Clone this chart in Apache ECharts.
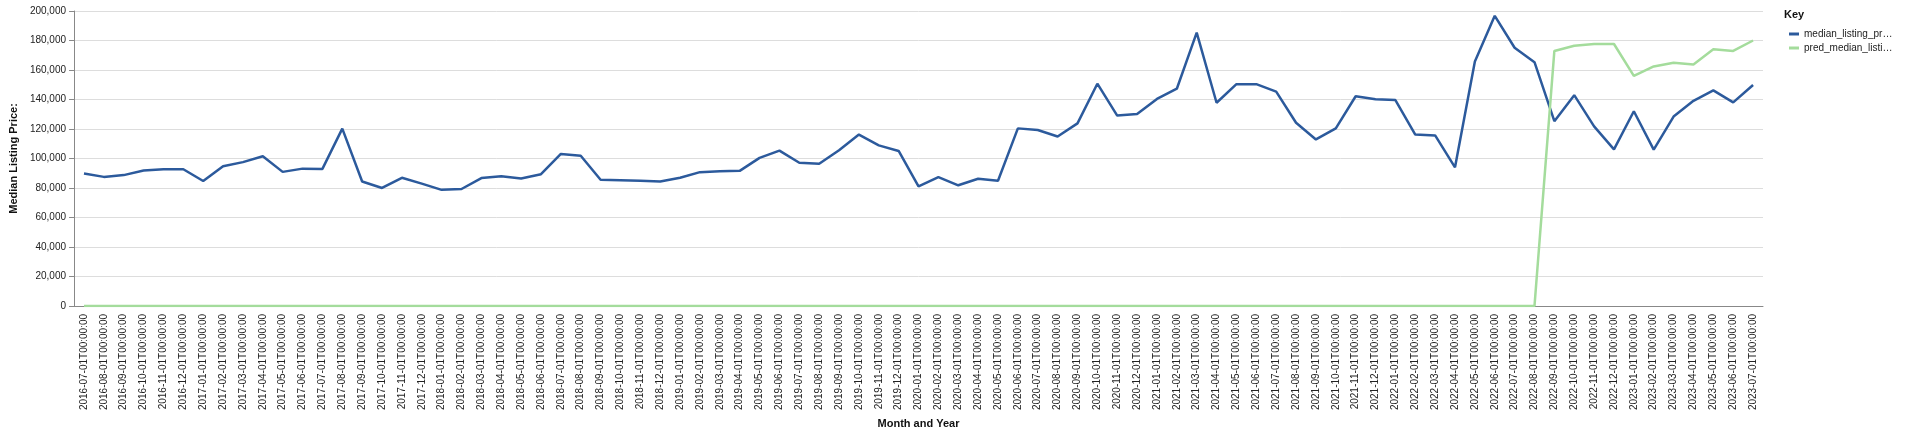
<!DOCTYPE html>
<html>
<head>
<meta charset="utf-8">
<script src="https://cdn.jsdelivr.net/npm/echarts@6/dist/echarts.min.js"></script>
<style>html,body{margin:0;padding:0;background:#fff}#c{width:1920px;height:434px}</style>
</head>
<body>
<div id="c"></div>
<script>
'use strict';
// months 2016-07 .. 2023-07
var months = [];
for (var y = 2016; y <= 2023; y++) {
    for (var m = 1; m <= 12; m++) {
        if ((y === 2016 && m < 7) || (y === 2023 && m > 7)) continue;
        months.push(y + '-' + (m < 10 ? '0' + m : m) + '-01T00:00:00');
    }
}
var medianPrice = [
    89800, 87500, 88700, 91800, 92700, 92700, 84700, 94700, 97500, 101500,
    90900, 93100, 92900, 120200, 84400, 80000, 86900, 82900, 78700, 79300,
    86700, 88000, 86400, 89300, 103100, 101800, 85600, 85300, 84900, 84400,
    86900, 90700, 91300, 91600, 100400, 105300, 97100, 96400, 105600, 116200,
    108900, 105100, 81100, 87300, 81800, 86200, 84900, 120400, 119300, 114900,
    123800, 150700, 129100, 130200, 140400, 147300, 185300, 137800, 150400, 150400,
    145300, 124200, 112900, 120400, 142200, 140200, 139600, 116200, 115600, 94000,
    165800, 196700, 175100, 165300, 125300, 142900, 121800, 106200, 132000, 106000,
    128400, 139100, 146200, 138000, 149800
];
var predTail = [172900, 176400, 177600, 177600, 156000, 162400, 164900, 163800, 174000, 172900, 180000];
var predPrice = [];
for (var i = 0; i < months.length - predTail.length; i++) predPrice.push(0);
predPrice = predPrice.concat(predTail);

var myChart = echarts.init(document.getElementById('c'));
var option = {
    animation: false,
    textStyle: { fontFamily: 'Liberation Sans, Arial, sans-serif' },
    grid: { left: 64, right: 157, top: 11, bottom: 124 },
    legend: {
        orient: 'vertical',
        left: 1784,
        top: 24,
        itemWidth: 10,
        itemHeight: 3,
        itemGap: 4,
        icon: 'rect',
        textStyle: { fontSize: 10, color: '#222' },
        formatter: function (n) { return n.length > 18 ? n.slice(0, 17) + '…' : n; },
        data: ['median_listing_price', 'pred_median_listing_price']
    },
    graphic: [{
        type: 'text', left: 1784, top: 9,
        style: { text: 'Key', font: 'bold 11px Liberation Sans, Arial', fill: '#111' }
    }],
    xAxis: {
        type: 'category',
        data: months,
        boundaryGap: true,
        name: 'Month and Year',
        nameLocation: 'middle',
        nameGap: 108,
        nameTextStyle: { fontWeight: 'bold', fontSize: 11, color: '#111' },
        axisLine: { lineStyle: { color: '#888' } },
        axisTick: { alignWithLabel: true, lineStyle: { color: '#888' } },
        axisLabel: { rotate: 90, interval: 0, fontSize: 10, color: '#222' }
    },
    yAxis: {
        type: 'value',
        min: 0, max: 200000, interval: 20000,
        name: 'Median Listing Price:',
        nameLocation: 'middle',
        nameGap: 52,
        nameTextStyle: { fontWeight: 'bold', fontSize: 11, color: '#111' },
        axisLine: { show: true, lineStyle: { color: '#888' } },
        axisTick: { show: true, lineStyle: { color: '#888' } },
        splitLine: { lineStyle: { color: '#ddd' } },
        axisLabel: {
            fontSize: 10, color: '#222',
            formatter: function (v) { return v.toLocaleString('en-US'); }
        }
    },
    series: [{
        name: 'median_listing_price',
        type: 'line',
        data: medianPrice,
        showSymbol: false,
        color: '#2c5a9c',
        lineStyle: { width: 2.5 }
    }, {
        name: 'pred_median_listing_price',
        type: 'line',
        data: predPrice,
        showSymbol: false,
        color: '#a4dc9c',
        lineStyle: { width: 2.5 }
    }]
};
myChart.setOption(option);
</script>
</body>
</html>
